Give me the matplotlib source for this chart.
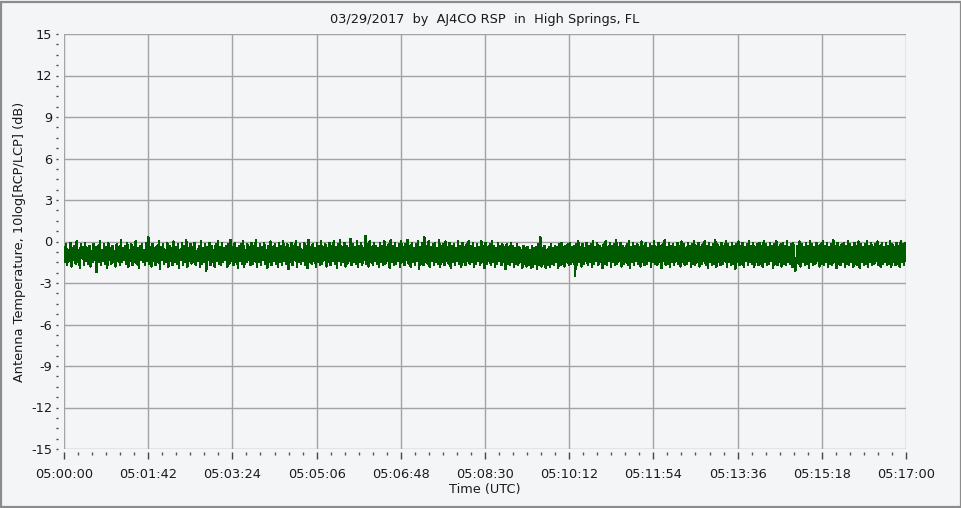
import numpy as np
import matplotlib
matplotlib.use("Agg")
import matplotlib.pyplot as plt
from matplotlib.ticker import MultipleLocator, FuncFormatter
from matplotlib.patches import Rectangle

title = "03/29/2017  by  AJ4CO RSP  in  High Springs, FL"
ylabel = "Antenna Temperature, 10log[RCP/LCP] (dB)"
xlabel = "Time (UTC)"
t_start_s = 5 * 3600  # 05:00:00
t_span_s = 1020       # until 05:17:00
y_ticks = [-15, -12, -9, -6, -3, 0, 3, 6, 9, 12, 15]

# Ratio values (dB), evenly spaced in time
ratio_db = [
    -0.4,-1.5,-0.2,-1.7,-0.6,-1.4,-0.1,-1.8,-0.5,-1.3,-0.3,-1.6,0.0,-1.5,-0.6,-1.9,-0.2,-1.2,-0.4,-1.7,
    -0.1,-1.4,-0.5,-1.6,-0.3,-1.8,-0.7,-1.5,-0.2,-1.3,-0.4,-2.2,-0.3,-1.5,0.0,-1.7,-0.6,-1.4,-0.2,-1.6,
    -0.4,-1.9,-0.1,-1.3,-0.5,-1.6,-0.3,-1.5,-0.7,-1.8,-0.2,-1.4,-0.4,-1.7,0.1,-1.5,-0.5,-1.3,-0.3,-1.6,
    -0.1,-1.8,-0.6,-1.4,-0.2,-1.7,-0.4,-1.5,0.0,-1.6,-0.5,-1.9,-0.3,-1.3,-0.2,-1.5,-0.6,-1.7,-0.1,-1.4,
    0.3,-1.6,-0.4,-1.8,-0.2,-1.4,-0.5,-1.7,-0.3,-1.5,0.0,-2.0,-0.4,-1.3,-0.2,-1.6,-0.6,-1.5,-0.1,-1.8,
    -0.3,-1.4,-0.5,-1.7,0.0,-1.5,-0.4,-1.6,-0.2,-1.9,-0.6,-1.3,-0.1,-1.7,-0.3,-1.5,0.1,-1.8,-0.5,-1.4,
    -0.2,-1.6,-0.4,-1.5,-0.1,-1.7,-0.7,-1.4,-0.3,-1.8,0.0,-1.6,-0.5,-1.5,-0.2,-2.1,-0.4,-1.3,-0.1,-1.7,
    -0.3,-1.5,-0.6,-1.8,-0.2,-1.4,0.0,-1.6,-0.4,-1.7,-0.1,-1.5,-0.5,-1.3,-0.3,-1.8,-0.2,-1.6,0.1,-1.4,
    -0.4,-1.7,-0.1,-1.5,-0.5,-1.9,-0.3,-1.4,-0.2,-1.6,0.0,-1.8,-0.6,-1.5,-0.2,-1.3,-0.4,-1.7,-0.1,-1.6,
    -0.3,-1.4,0.1,-1.8,-0.5,-1.5,-0.2,-1.7,-0.4,-1.3,-0.1,-1.6,-0.6,-1.9,-0.3,-1.5,0.0,-1.7,-0.4,-1.4,
    -0.2,-1.6,-0.5,-1.8,-0.1,-1.5,-0.3,-1.7,0.0,-1.4,-0.4,-1.6,-0.2,-2.0,-0.5,-1.5,-0.1,-1.7,-0.3,-1.3,
    0.0,-1.8,-0.4,-1.5,-0.2,-1.6,-0.6,-1.4,-0.1,-1.7,-0.3,-1.9,0.1,-1.5,-0.4,-1.6,-0.2,-1.4,-0.5,-1.8,
    -0.1,-1.5,-0.3,-1.7,0.0,-1.6,-0.4,-1.3,-0.2,-1.8,-0.5,-1.5,-0.1,-1.7,-0.3,-1.4,0.0,-1.6,-0.4,-1.9,
    -0.2,-1.4,0.1,-1.7,-0.4,-1.5,-0.1,-1.8,-0.3,-1.6,-0.5,-1.4,0.2,-1.7,-0.2,-1.5,-0.4,-1.6,0.0,-1.8,
    -0.3,-1.5,-0.1,-1.7,-0.5,-1.3,0.4,-1.6,-0.2,-1.8,0.0,-1.5,-0.4,-1.7,-0.1,-1.4,-0.3,-1.6,-0.5,-1.8,
    -0.1,-1.5,-0.3,-1.7,0.0,-1.6,-0.4,-1.4,-0.2,-1.9,0.1,-1.5,-0.3,-1.7,-0.1,-1.6,-0.5,-1.4,-0.2,-1.8,
    0.0,-1.5,-0.4,-1.7,-0.2,-1.3,0.1,-1.6,-0.3,-1.8,-0.1,-1.5,-0.5,-1.7,-0.2,-1.4,0.0,-2.0,-0.4,-1.6,
    -0.1,-1.7,0.3,-1.5,-0.3,-1.6,0.0,-1.8,-0.4,-1.4,-0.2,-1.7,-0.1,-1.5,-0.5,-1.6,0.1,-1.8,-0.3,-1.5,
    -0.2,-1.7,0.0,-1.4,-0.4,-1.6,-0.1,-1.9,-0.3,-1.5,-0.2,-1.7,-0.5,-1.4,0.0,-1.6,-0.3,-1.8,-0.1,-1.5,
    -0.4,-1.7,-0.2,-1.4,0.0,-1.6,-0.3,-1.5,-0.1,-1.8,-0.5,-1.6,-0.2,-1.4,-0.4,-1.7,0.0,-1.5,-0.3,-1.9,
    -0.1,-1.6,-0.4,-1.4,-0.2,-1.7,0.0,-1.5,-0.3,-1.8,-0.5,-1.6,-0.1,-1.4,-0.3,-1.7,-0.2,-1.5,-0.4,-2.0,
    -0.2,-1.6,-0.4,-1.7,-0.1,-1.5,-0.3,-1.8,-0.5,-1.6,-0.2,-1.7,-0.4,-1.5,-0.6,-1.9,-0.3,-1.6,-0.5,-1.8,
    -0.4,-1.7,-0.6,-1.9,-0.3,-1.8,-0.5,-1.6,-0.4,-2.0,-0.2,-1.7,0.3,-1.8,-0.5,-1.6,-0.3,-1.9,-0.6,-1.7,
    -0.4,-1.8,-0.2,-1.6,-0.5,-1.7,-0.3,-1.5,-0.4,-1.9,-0.2,-1.7,-0.1,-1.6,-0.4,-1.8,-0.3,-1.5,-0.2,-1.7,
    -0.1,-1.6,-0.4,-1.5,-0.3,-2.5,-0.2,-1.7,0.0,-1.5,-0.4,-1.8,-0.2,-1.6,-0.5,-1.4,-0.1,-1.7,-0.3,-1.5,
    -0.2,-1.8,0.0,-1.6,-0.4,-1.4,-0.1,-1.7,-0.3,-1.5,-0.5,-1.9,-0.2,-1.6,0.0,-1.7,-0.4,-1.4,-0.1,-1.8,
    -0.3,-1.5,-0.2,-1.7,0.1,-1.6,-0.4,-1.4,-0.1,-1.8,-0.3,-1.6,-0.5,-1.5,-0.2,-1.7,0.0,-1.9,-0.4,-1.5,
    -0.1,-1.7,-0.3,-1.4,-0.2,-1.6,-0.4,-1.8,0.0,-1.5,-0.3,-1.7,-0.1,-1.6,-0.5,-1.4,-0.2,-1.8,-0.3,-1.5,
    0.0,-1.6,-0.4,-1.7,-0.1,-1.5,-0.3,-1.9,-0.2,-1.4,0.1,-1.7,-0.4,-1.6,-0.1,-1.8,-0.3,-1.5,-0.2,-1.7,
    -0.4,-1.4,-0.1,-1.6,-0.3,-1.8,0.0,-1.5,-0.2,-1.7,-0.5,-1.6,-0.1,-1.4,-0.3,-1.8,-0.2,-1.6,0.0,-1.7,
    -0.3,-1.5,-0.1,-1.8,-0.4,-1.6,-0.2,-1.4,0.0,-1.7,-0.3,-1.9,-0.1,-1.5,-0.4,-1.7,-0.2,-1.6,0.1,-1.8,
    -0.2,-1.5,-0.4,-1.7,-0.1,-1.6,-0.3,-1.4,0.0,-1.8,-0.2,-1.5,-0.4,-1.7,-0.1,-1.6,-0.3,-2.0,-0.2,-1.5,
    0.0,-1.7,-0.3,-1.6,-0.1,-1.8,-0.4,-1.4,-0.2,-1.7,0.0,-1.5,-0.3,-1.6,-0.1,-1.8,-0.4,-1.5,-0.2,-1.7,
    -0.1,-1.6,-0.3,-1.8,0.0,-1.5,-0.2,-1.7,-0.4,-1.6,-0.1,-1.4,-0.3,-1.9,-0.2,-1.6,0.0,-1.7,-0.4,-1.5,
    -0.2,-1.8,-0.1,-1.6,-0.3,-1.7,0.0,-1.5,-0.4,-1.6,-0.2,-1.8,-0.1,-1.7,-2.1,-1.5,-0.3,-1.6,0.0,-1.8,
    -0.2,-1.5,-0.4,-1.7,-0.1,-1.6,-0.3,-1.9,0.0,-1.5,-0.2,-1.7,-0.4,-1.6,-0.1,-1.4,-0.3,-1.8,-0.2,-1.6,
    0.0,-1.7,-0.3,-1.5,-0.1,-1.8,-0.4,-1.6,-0.2,-1.7,0.1,-1.5,-0.3,-1.9,-0.1,-1.6,-0.4,-1.7,-0.2,-1.5,
    -0.1,-1.8,-0.3,-1.6,0.0,-1.7,-0.2,-1.5,-0.4,-1.8,-0.1,-1.6,-0.3,-1.7,0.0,-1.9,-0.2,-1.5,-0.4,-1.7,
    -0.2,-1.6,0.0,-1.8,-0.3,-1.5,-0.1,-1.7,-0.4,-1.6,-0.2,-1.4,0.0,-1.7,-0.3,-1.8,-0.1,-1.6,-0.4,-1.5,
    -0.1,-1.7,-0.3,-1.6,0.0,-1.8,-0.2,-1.5,-0.4,-1.7,-0.1,-1.6,-0.3,-1.8,0.0,-1.5,-0.2,-1.7,-0.1,-1.4,
]

bg = "#f4f5f7"
grid_c = "#a3a3a3"
txt_c = "#1a1a1a"

fig = plt.figure(figsize=(9.62, 5.08), dpi=100, facecolor=bg)
fig.patches.append(Rectangle((0.001, 0.002), 0.998, 0.995, transform=fig.transFigure,
                             fill=False, edgecolor="#8c8c8c", linewidth=1.6))
ax = fig.add_axes([64/962, 1-449/508, (906-64)/962, (449-34)/508])
ax.set_facecolor(bg)

t = np.linspace(0, t_span_s, len(ratio_db))
ax.plot(t, ratio_db, color="#005a00", linewidth=1.0, antialiased=False)

ax.set_xlim(0, t_span_s)
ax.set_ylim(-15, 15)
ax.set_yticks(y_ticks)
ax.yaxis.set_minor_locator(MultipleLocator(0.75))
ax.xaxis.set_major_locator(MultipleLocator(102))
ax.xaxis.set_minor_locator(MultipleLocator(17))

def fmt_time(v, pos):
    s = int(round(t_start_s + v))
    return f"{s//3600:02d}:{(s%3600)//60:02d}:{s%60:02d}"

ax.xaxis.set_major_formatter(FuncFormatter(fmt_time))
ax.yaxis.set_major_formatter(FuncFormatter(lambda v, p: f"{int(v)}"))

for s in ax.spines.values():
    s.set_visible(False)
ax.spines["left"].set_position(("outward", 4))
ax.spines["bottom"].set_position(("outward", 2.5))

ax.grid(True, which="major", color=grid_c, linewidth=1.0)
ax.set_axisbelow(True)

ax.tick_params(axis="y", which="major", length=1.5, width=1, color="#444444",
               labelsize=9.3, labelcolor=txt_c, pad=3)
ax.tick_params(axis="y", which="minor", length=1.5, width=1, color="#444444")
ax.tick_params(axis="x", which="major", length=5, width=1, color="#444444",
               labelsize=9.3, labelcolor=txt_c, pad=6.5)
ax.tick_params(axis="x", which="minor", length=2, width=1, color="#555555")

ax.set_title(title, fontsize=9.3, color=txt_c, pad=8)
ax.set_ylabel(ylabel, fontsize=9.3, color=txt_c, labelpad=4)
ax.set_xlabel(xlabel, fontsize=9.3, color=txt_c, labelpad=1)

fig.savefig("out.png", dpi=100, facecolor=bg)
